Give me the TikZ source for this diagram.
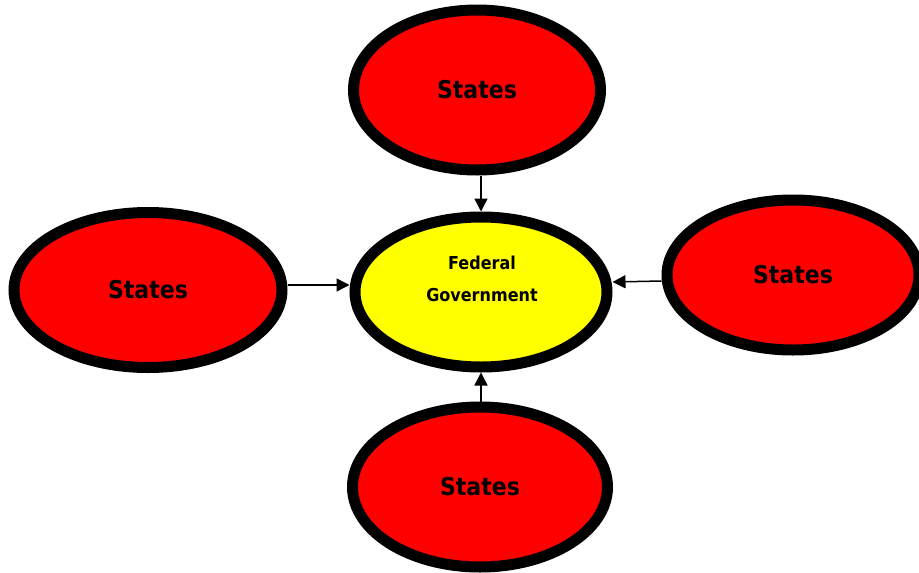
\documentclass[tikz,border=0pt]{standalone}
\usepackage{fontspec}
\newfontfamily\lblfont{DejaVu Sans Condensed}
\usetikzlibrary{shapes.geometric,arrows.meta}
\definecolor{stred}{RGB}{255,0,0}
\definecolor{fedyellow}{RGB}{255,255,0}
\tikzset{
  blob/.style={ellipse, draw=black, line width=11pt, inner sep=0pt},
  statebox/.style={blob, fill=stred, font=\lblfont\bfseries\fontsize{24.5}{28}\selectfont},
  fedbox/.style={blob, fill=fedyellow},
  fedlabel/.style={align=center, inner sep=0pt, font=\lblfont\bfseries\fontsize{17.8}{32}\selectfont},
  link/.style={line width=1.5pt, -{Triangle[length=13pt,width=13pt]}}
}
\begin{document}
\begin{tikzpicture}[x=1pt,y=-1pt]
\useasboundingbox (0,0) rectangle (919,573);
% central body
\node[fedbox, minimum width=252pt, minimum height=150pt] (fed) at (481,292) {};
\node[fedlabel] (fedtxt) at (482,279) {Federal\\Government};
% surrounding states
\node[statebox, minimum width=247pt, minimum height=160pt] (top) at (477,90) {States};
\node[statebox, minimum width=268pt, minimum height=155pt] (left) at (148,290) {States};
\node[statebox, minimum width=252pt, minimum height=150pt] (right) at (793,275) {States};
\node[statebox, minimum width=255pt, minimum height=160pt] (bot) at (480,487) {States};
% arrows into the centre
\draw[link] (top.south -| fed.north) -- (fed.north);
\draw[link] ([yshift=5pt]left.east) -- ([yshift=7pt]fed.west);
\draw[link] ([yshift=-6pt]right.west) -- ([yshift=10pt]fed.east);
\draw[link] (bot.north -| fed.south) -- (fed.south);
\end{tikzpicture}
\end{document}
